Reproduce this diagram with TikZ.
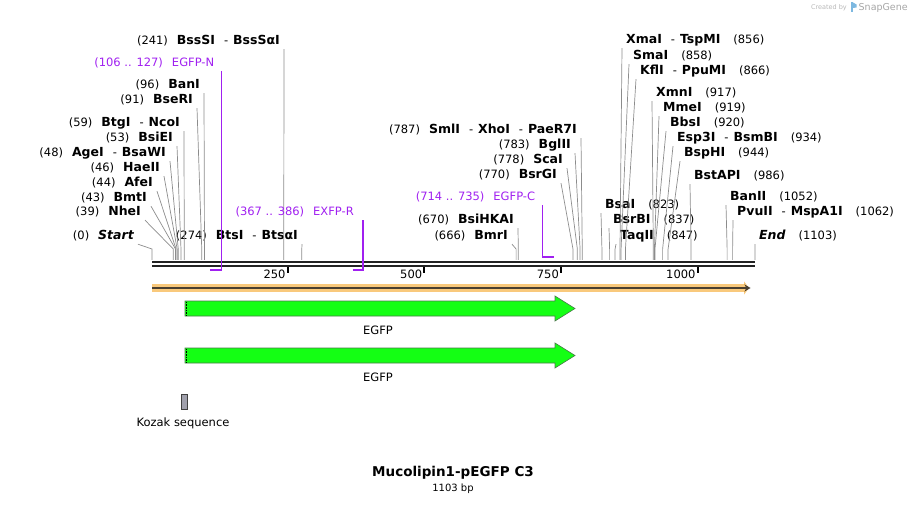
\documentclass[tikz,border=0pt]{standalone}
\usepackage{fontspec}
\setmainfont{DejaVu Sans}
\usetikzlibrary{arrows.meta, positioning}

\definecolor{primcol}{HTML}{A020F0}
\definecolor{leadgray}{HTML}{8C8C8C}
\definecolor{bbcol}{HTML}{222222}
\definecolor{egfpgreen}{HTML}{14FF14}
\definecolor{egfpedge}{HTML}{4A7A4A}
\definecolor{orflight}{HTML}{F9C97C}
\definecolor{orfdark}{HTML}{4A3F30}
\definecolor{kozakgray}{HTML}{A0A0AC}
\definecolor{sgblue}{HTML}{7DB8E0}

\newcommand{\bpx}[1]{152+0.5467*#1}
\newcommand{\en}[1]{{\fontsize{12.5}{13}\selectfont\bfseries #1}}
\newcommand{\sep}{\hspace{9pt}}
\newcommand{\rsep}{\hspace{13pt}}
\newcommand{\dsh}{\hspace{9pt}-\hspace{5pt}}

\begin{document}
\begin{tikzpicture}[x=1pt, y=-1pt,
    site/.style={font=\fontsize{11.5}{12}\selectfont, inner xsep=4pt, inner ysep=1.5pt, text height=8.5pt, text depth=2.5pt},
    lsite/.style={site, anchor=east},
    rsite/.style={site, anchor=west},
    primer/.style={site, anchor=east, text=primcol},
    leader/.style={draw=leadgray, line width=0.7pt},
    prline/.style={draw=primcol, line width=1.2pt},
    prbar/.style={draw=primcol, line width=2.4pt},
    backbone/.style={draw=bbcol, line width=2.5pt},
    tick/.style={draw=black, line width=2pt},
    ticklabel/.style={font=\fontsize{11.5}{12}\selectfont, anchor=east, inner sep=1pt},
    feature/.style={fill=egfpgreen, draw=egfpedge, line width=0.6pt},
    featlabel/.style={font=\fontsize{11.5}{12}\selectfont, inner sep=1pt}
]
\useasboundingbox (0,0) rectangle (908,505);

% Sequence ruler
\coordinate (bbL) at (152,262.2);
\coordinate (bbR) at (755,262.2);
\draw[backbone] (bbL) -- (bbR);
\draw[backbone] ([yshift=-4pt]bbL) -- ([yshift=-4pt]bbR);
\foreach \t in {250,500,750,1000} {
  \coordinate (t\t) at ({\bpx{\t}-1},267.5);
  \draw[tick] (t\t) -- ++(0,6);
  \node[ticklabel] at ([xshift=-1pt,yshift=-7pt]t\t) {\t};
}

% Sites on the backbone
\foreach \b in {0,39,43,44,46,48,53,59,91,96,241,274,666,670,770,778,783,787,
                823,837,847,856,858,866,917,919,920,934,944,986,1052,1062,1103} {
  \coordinate (s\b) at ({\bpx{\b}},260);
}

% Left labels
\node[lsite] (n241) at (284,42) {(241)\sep\en{BssSI}\dsh\en{BssSαI}};
\node[lsite] (n96) at (204,86) {(96)\sep\en{BanI}};
\node[lsite] (n91) at (197,101) {(91)\sep\en{BseRI}};
\node[lsite] (n59) at (184,124) {(59)\sep\en{BtgI}\dsh\en{NcoI}};
\node[lsite] (n53) at (177,139) {(53)\sep\en{BsiEI}};
\node[lsite] (n48) at (170,154) {(48)\sep\en{AgeI}\dsh\en{BsaWI}};
\node[lsite] (n46) at (164,169) {(46)\sep\en{HaeII}};
\node[lsite] (n44) at (157,184) {(44)\sep\en{AfeI}};
\node[lsite] (n43) at (151,199) {(43)\sep\en{BmtI}};
\node[lsite] (n39) at (145,213) {(39)\sep\en{NheI}};
\node[lsite] (n0) at (138,237) {(0)\sep\en{\itshape Start}};
\node[lsite] (n274) at (302,237) {(274)\sep\en{BtsI}\dsh\en{BtsαI}};
\node[lsite] (n787) at (581,131) {(787)\sep\en{SmlI}\dsh\en{XhoI}\dsh\en{PaeR7I}};
\node[lsite] (n783) at (575,146) {(783)\sep\en{BglII}};
\node[lsite] (n778) at (567,161) {(778)\sep\en{ScaI}};
\node[lsite] (n770) at (561,176) {(770)\sep\en{BsrGI}};
\node[lsite] (n670) at (518,221) {(670)\sep\en{BsiHKAI}};
\node[lsite] (n666) at (512,237) {(666)\sep\en{BmrI}};

% Right labels
\node[rsite] (n856) at (622,41) {\en{XmaI}\dsh\en{TspMI}\rsep(856)};
\node[rsite] (n858) at (629,57) {\en{SmaI}\rsep(858)};
\node[rsite] (n866) at (636,72) {\en{KflI}\dsh\en{PpuMI}\rsep(866)};
\node[rsite] (n917) at (652,94) {\en{XmnI}\rsep(917)};
\node[rsite] (n919) at (659,109) {\en{MmeI}\rsep(919)};
\node[rsite] (n920) at (666,124) {\en{BbsI}\rsep(920)};
\node[rsite] (n934) at (673,139) {\en{Esp3I}\dsh\en{BsmBI}\rsep(934)};
\node[rsite] (n944) at (680,154) {\en{BspHI}\rsep(944)};
\node[rsite] (n986) at (690,177) {\en{BstAPI}\rsep(986)};
\node[rsite] (n823) at (601,206) {\en{BsaI}\rsep(823)};
\node[rsite] (n837) at (609,221) {\en{BsrBI}\rsep(837)};
\node[rsite] (n847) at (616,237) {\en{TaqII}\rsep(847)};
\node[rsite] (n1052) at (726,198) {\en{BanII}\rsep(1052)};
\node[rsite] (n1062) at (733,213) {\en{PvuII}\dsh\en{MspA1I}\rsep(1062)};
\node[rsite] (n1103) at (755,237) {\en{\itshape End}\rsep(1103)};

% Leaders
\foreach \b in {0,39,43,44,46,48,53,59,91,96,241,274,666,670,770,778,783,787} {
  \draw[leader] (n\b.south east) -- (s\b |- 0,249) -- (s\b);
}
\foreach \b in {823,837,847,856,858,866,917,919,920,934,944,986,1052,1062,1103} {
  \draw[leader] (n\b.south west) -- (s\b |- 0,249) -- (s\b);
}

% Primers
\coordinate (p106) at ({\bpx{106}},270);
\coordinate (p127) at ({\bpx{127}},270);
\coordinate (p367) at ({\bpx{367}},270);
\coordinate (p386) at ({\bpx{386}},270);
\coordinate (p714) at ({\bpx{714}},257);
\coordinate (p735) at ({\bpx{735}},257);
\node[primer] (pegfpn) at ([xshift=-3pt]p127 |- 0,64) {(106 .. 127)\sep EGFP-N};
\node[primer] (pexfpr) at ([xshift=-5pt]p386 |- 0,213) {(367 .. 386)\sep EXFP-R};
\node[primer] (pegfpc) at ([xshift=-3pt]p714 |- 0,198) {(714 .. 735)\sep EGFP-C};
\draw[prline] (p127 |- pegfpn.south) -- (p127);
\draw[prline] (p386 |- pexfpr.south) -- (p386);
\draw[prline] (p714 |- pegfpc.south) -- (p714);
\draw[prbar] (p106) -- ([xshift=0.6pt]p127);
\draw[prbar] (p367) -- ([xshift=0.6pt]p386);
\draw[prbar] ([xshift=-0.6pt]p714) -- (p735);

% ORF
\coordinate (orfL) at (152,288);
\coordinate (orfR) at (752,288);
\draw[orflight, line width=7pt, -{Triangle[length=5pt, width=13pt]}] (orfL) -- ([xshift=-3pt]orfR);
\draw[orfdark, line width=2pt, -{Stealth[length=6pt, width=7pt]}] (orfL) -- ([xshift=-1.5pt]orfR);

% EGFP features
\draw[feature] (185,301) -- (555,301) -- (555,296) -- (575,308.5) -- (555,321) -- (555,316) -- (185,316) -- cycle;
\draw[black, densely dotted, line width=1.6pt] (186.3,301.8) -- (186.3,315.2);
\node[featlabel] (egfp1) at (378,330) {EGFP};
\draw[feature] (185,348) -- (555,348) -- (555,343) -- (575,355.5) -- (555,368) -- (555,363) -- (185,363) -- cycle;
\draw[black, densely dotted, line width=1.6pt] (186.3,348.8) -- (186.3,362.2);
\node[featlabel] (egfp2) at (378,377) {EGFP};

% Kozak sequence
\draw[draw=black!75, fill=kozakgray, line width=0.6pt] (181.5,394.5) rectangle (187.5,409.5);
\node[featlabel] (kozak) at (183,423) {Kozak sequence};

% Title
\node[font=\fontsize{13.5}{15}\selectfont\bfseries, inner sep=0pt] (title) at (453,473) {Mucolipin1-pEGFP C3};
\node[font=\fontsize{10}{11}\selectfont, inner sep=0pt] (length) at (453,489) {1103 bp};

% Logo
\node[font=\fontsize{6.5}{7}\selectfont, text=black!28, anchor=east, inner sep=0pt] (cby) at (847,7.5) {Created by};
\fill[sgblue] (850.5,2.5) rectangle (853,12.5);
\fill[sgblue] (853,2.5) -- (856.5,4.5) -- (856.5,7.5) -- (853,8) -- cycle;
\node[font=\fontsize{9.5}{10}\selectfont, text=black!35, anchor=west, inner sep=0pt] (sg) at (858.5,7.5) {SnapGene};
\end{tikzpicture}
\end{document}
